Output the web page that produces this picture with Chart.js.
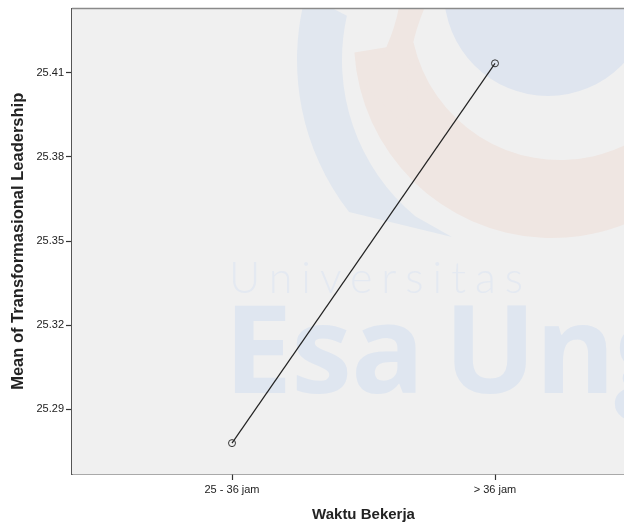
<!DOCTYPE html>
<html>
<head>
<meta charset="utf-8">
<script src="https://cdn.jsdelivr.net/npm/chart.js@4.4.1/dist/chart.umd.min.js"></script>
<style>
  html, body { margin: 0; padding: 0; background: #ffffff; overflow: hidden; }
  #wrap { width: 660px; height: 529px; }
</style>
</head>
<body>
<div id="wrap"><canvas id="grafico" width="660" height="529"></canvas></div>
<script>
// datos
const categorias = ["25 - 36 jam", "> 36 jam"];
const medias = [25.278, 25.4133];
const ticksY = [25.29, 25.32, 25.35, 25.38, 25.41];
const tituloX = "Waktu Bekerja";
const tituloY = "Mean of Transformasional Leadership";

var puntos = [];
for (var i = 0; i < categorias.length; i++) {
  puntos.push({ x: i, y: medias[i] });
}

// fondo del area, marca de agua y borde superior
const fondoPlugin = {
  id: "fondo",
  beforeDatasetsDraw(chart) {
    const ctx = chart.ctx;
    const a = chart.chartArea;
    ctx.save();
    ctx.fillStyle = "#f0f0f0";
    ctx.fillRect(a.left, a.top, a.right - a.left, a.bottom - a.top);
    ctx.beginPath();
    ctx.rect(a.left, a.top, a.right - a.left, a.bottom - a.top);
    ctx.clip();

    // circulo azul
    ctx.fillStyle = "#dfe5ef";
    ctx.beginPath();
    ctx.arc(548, -8, 104, 0, Math.PI * 2);
    ctx.fill();

    // arco naranja
    ctx.fillStyle = "#efe6e2";
    ctx.beginPath();
    ctx.arc(552, 40, 198, 0.05, Math.PI * 0.98, false);
    ctx.arc(560, 10, 150, Math.PI * 0.93, 0.2, true);
    ctx.closePath();
    ctx.fill();
    ctx.beginPath();
    ctx.moveTo(400, 0);
    ctx.lineTo(428, 0);
    ctx.quadraticCurveTo(400, 60, 410, 130);
    ctx.lineTo(365, 86);
    ctx.quadraticCurveTo(395, 40, 400, 0);
    ctx.fill();

    // arco azul
    ctx.fillStyle = "#e1e7ef";
    ctx.beginPath();
    ctx.arc(545, 60, 248, Math.PI * 1.085, Math.PI * 0.79, true);
    ctx.lineTo(452, 237);
    ctx.arc(545, 60, 203, Math.PI * 0.72, Math.PI * 1.07, false);
    ctx.closePath();
    ctx.fill();

    // textos
    ctx.fillStyle = "#e4e9f1";
    ctx.font = "300 43px Lato, 'Open Sans', sans-serif";
    ctx.letterSpacing = "9px";
    ctx.textBaseline = "alphabetic";
    ctx.fillText("Universitas", 229, 293);
    ctx.letterSpacing = "-1px";
    ctx.fillStyle = "#dfe6f0";
    ctx.font = "bold 122px 'Open Sans', Lato, sans-serif";
    ctx.fillText("Esa", 224, 393);
    ctx.fillText("Ung", 444, 393);
    ctx.restore();
  },
  afterDraw(chart) {
    const ctx = chart.ctx;
    const a = chart.chartArea;
    ctx.save();
    ctx.strokeStyle = "#8a8a8a";
    ctx.lineWidth = 1.5;
    ctx.beginPath();
    ctx.moveTo(a.left, a.top);
    ctx.lineTo(a.right, a.top);
    ctx.stroke();

    ctx.fillStyle = "#222";
    ctx.font = "bold 15px 'Liberation Sans', Arial, sans-serif";
    ctx.textAlign = "center";
    ctx.textBaseline = "middle";
    ctx.fillText(tituloX, (a.left + a.right) / 2, 515);
    ctx.translate(18, (a.top + a.bottom) / 2);
    ctx.rotate(-Math.PI / 2);
    ctx.font = "bold 16.5px 'Liberation Sans', Arial, sans-serif";
    ctx.fillText(tituloY, 0, 0);
    ctx.restore();
  }
};

const config = {
  type: "line",
  data: {
    datasets: [{
      data: puntos,
      borderColor: "#222",
      borderWidth: 1.2,
      pointRadius: 3.5,
      pointBorderColor: "#333",
      pointBorderWidth: 1,
      pointBackgroundColor: "rgba(0,0,0,0)",
      fill: false,
      tension: 0
    }]
  },
  options: {
    responsive: false,
    animation: false,
    layout: { padding: { top: 8, right: 5, left: 0, bottom: 0 } },
    plugins: {
      legend: { display: false },
      tooltip: { enabled: false }
    },
    scales: {
      x: {
        type: "linear",
        min: -0.6084,
        max: 1.6083,
        afterBuildTicks: function (scale) {
          scale.ticks = categorias.map(function (c, i) { return { value: i }; });
        },
        afterFit: function (scale) { scale.height = 55; },
        ticks: {
          callback: function (v) { return categorias[v]; },
          color: "#222",
          font: { family: "'Liberation Sans', Arial, sans-serif", size: 11 },
          padding: 3,
          maxRotation: 0
        },
        grid: { drawOnChartArea: false, tickLength: 6, color: "#333", tickWidth: 1.2 },
        border: { display: true, color: "#555", width: 1.5 }
      },
      y: {
        min: 25.267,
        max: 25.4328,
        afterBuildTicks: function (scale) {
          scale.ticks = ticksY.map(function (v) { return { value: v }; });
        },
        afterFit: function (scale) { scale.width = 72; },
        ticks: {
          callback: function (v) { return v.toFixed(2); },
          color: "#222",
          font: { family: "'Liberation Sans', Arial, sans-serif", size: 11 },
          padding: 2
        },
        grid: { drawOnChartArea: false, tickLength: 6, color: "#333", tickWidth: 1.2 },
        border: { display: true, color: "#555", width: 1.5 }
      }
    }
  },
  plugins: [fondoPlugin]
};

var grafico = new Chart(document.getElementById("grafico").getContext("2d"), config);
</script>
</body>
</html>
